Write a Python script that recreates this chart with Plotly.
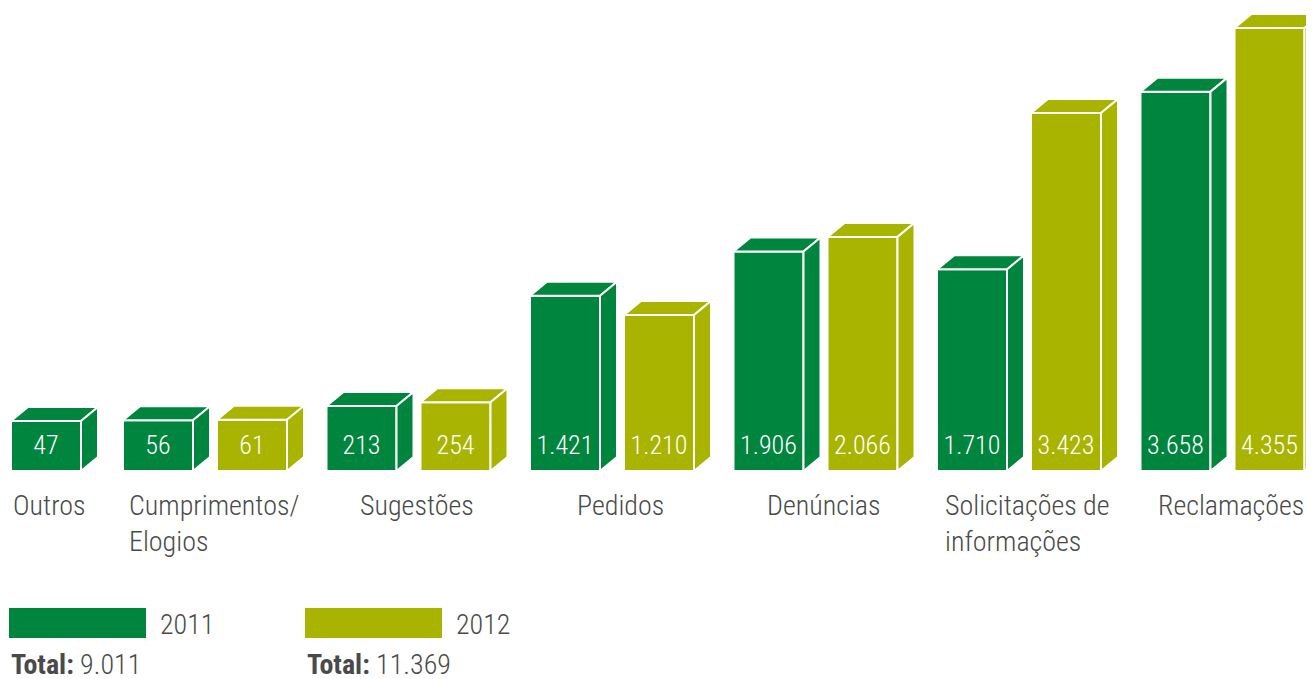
import plotly.graph_objects as go

# ---- data ----
categories = ["Outros", "Cumprimentos/<br>Elogios", "Sugestões", "Pedidos",
              "Denúncias", "Solicitações de<br>informações", "Reclamações"]
values_2011 = [47, 56, 213, 1421, 1906, 1710, 3658]
values_2012 = [None, 61, 254, 1210, 2066, 3423, 4355]
value_labels_2011 = ["47", "56", "213", "1.421", "1.906", "1.710", "3.658"]
value_labels_2012 = [None, "61", "254", "1.210", "2.066", "3.423", "4.355"]
series_names = ["2011", "2012"]
totals = ["9.011", "11.369"]

# ---- style / layout ----
W, H = 1314, 679
OFF = 8                            # page offset of the figure
C2011 = "#00853F"
C2012 = "#A9B400"
TXT = "#4a4a4a"
FONT = "Roboto Condensed"
LIGHT = 300
YMIN, YMAX = -2780, 4662          # y-axis range (px mapping)
BASE = -500                        # visual base of the bars
U = (YMAX - YMIN) / H              # data units per pixel
BAR_W = 70
DX, DY = 17, 14 * U                # 3D depth offset
PITCH, SLOT, X0 = 203.5, 94, 123 - 203.5


def py(p):   # page pixel row -> data y
    return YMAX - (p - OFF) * U


def bar_left(i, s):
    if values_2012[i] is None:     # single-bar group
        return X0 + PITCH * i + SLOT - 2.5
    return X0 + PITCH * i + SLOT * s


fig = go.Figure()

for s, (vals, labs, col) in enumerate([(values_2011, value_labels_2011, C2011),
                                       (values_2012, value_labels_2012, C2012)]):
    xs, ys, txt, tx, ty = [], [], [], [], []
    top_x, top_y, side_x, side_y = [], [], [], []
    for i, v in enumerate(vals):
        if v is None:
            continue
        left = bar_left(i, s)
        right = left + BAR_W
        b = py(471)
        top = v + (b - BASE)
        xs.append(left + BAR_W / 2)
        ys.append(v - BASE)
        top_x += [left, left + DX, right + DX, right, left, None]
        top_y += [top, top + DY, top + DY, top, top, None]
        side_x += [right, right + DX, right + DX, right, right, None]
        side_y += [b, b + DY, top + DY, top, b, None]
        tx.append(left + BAR_W / 2)
        ty.append(py(447))
        txt.append(labs[i])
    fig.add_trace(go.Bar(x=xs, y=ys, base=py(471), width=BAR_W,
                         marker=dict(color=col, line=dict(color="white", width=2)),
                         showlegend=False, hoverinfo="skip"))
    for fx, fy in [(top_x, top_y), (side_x, side_y)]:
        fig.add_trace(go.Scatter(x=fx, y=fy, fill="toself", fillcolor=col, mode="lines",
                                 line=dict(color="white", width=2),
                                 showlegend=False, hoverinfo="skip"))
    fig.add_trace(go.Scatter(x=tx, y=ty, mode="text", text=txt,
                             textposition="middle center",
                             textfont=dict(family=FONT, size=26, weight=LIGHT, color="white"),
                             showlegend=False, hoverinfo="skip"))

annotations = []
for i, cat in enumerate(categories):
    if values_2012[i] is None:
        cx = bar_left(i, 0) + BAR_W / 2 + 3
    else:
        cx = bar_left(i, 0) + (SLOT + BAR_W + DX) / 2
    annotations.append(dict(x=cx, y=py(487), xref="x", yref="y", text=cat,
                            showarrow=False, xanchor="center", yanchor="top", align="left",
                            font=dict(family=FONT, size=28, weight=LIGHT, color=TXT)))

shapes = []
for k, (name, col, tot) in enumerate(zip(series_names, [C2011, C2012], totals)):
    lx = 9 + 296 * k
    shapes.append(dict(type="rect", xref="x", yref="y", x0=lx, x1=lx + 137,
                       y0=py(638), y1=py(608), fillcolor=col, line=dict(width=0)))
    annotations.append(dict(x=lx + 149, y=py(624), xref="x", yref="y", text=name,
                            showarrow=False, xanchor="left", yanchor="middle",
                            font=dict(family=FONT, size=28, weight=LIGHT, color=TXT)))
    annotations.append(dict(x=lx, y=py(664), xref="x", yref="y",
                            text="<b style='font-weight:700'>Total:</b> " + tot,
                            showarrow=False, xanchor="left", yanchor="middle",
                            font=dict(family=FONT, size=28, weight=LIGHT, color=TXT)))

fig.update_layout(
    width=W, height=H, margin=dict(l=0, r=0, t=0, b=0),
    paper_bgcolor="white", plot_bgcolor="white",
    xaxis=dict(range=[OFF, W + OFF], visible=False, fixedrange=True),
    yaxis=dict(range=[YMIN, YMAX], visible=False, fixedrange=True),
    annotations=annotations, shapes=shapes, barmode="overlay",
    showlegend=False,
)
fig.write_html("out.html")
